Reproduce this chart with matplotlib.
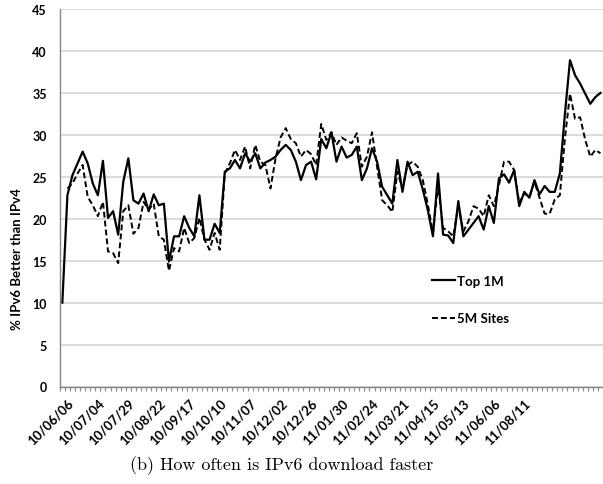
import numpy as np
import matplotlib
matplotlib.use('Agg')
import matplotlib.pyplot as plt
from matplotlib.transforms import ScaledTranslation

# category labels, one every 6 samples
date_labels = ['10/06/06', '10/07/04', '10/07/29', '10/08/22', '10/09/17', '10/10/10',
               '10/11/07', '10/12/02', '10/12/26', '11/01/30', '11/02/24', '11/03/21',
               '11/04/15', '11/05/13', '11/06/06', '11/08/11']

# % of sites where IPv6 is faster
top1m = [10.0, 22.8, 25.2, 26.6, 28.0, 26.6, 24.2, 22.8, 26.9, 20.1, 20.9, 18.1,
         24.4, 27.2, 22.2, 21.8, 23.0, 20.9, 22.9, 21.6, 21.8, 14.9, 17.9, 17.9,
         20.3, 18.9, 17.9, 22.8, 17.5, 17.5, 19.4, 18.3, 25.6, 26.0, 27.0, 26.0,
         27.8, 26.8, 27.8, 26.0, 26.7, 27.0, 27.4, 28.2, 28.8, 28.2, 26.8, 24.6,
         26.4, 26.8, 24.7, 29.5, 28.4, 30.3, 26.8, 28.6, 27.3, 27.6, 28.6, 24.6,
         26.0, 28.4, 26.8, 23.8, 22.8, 21.8, 27.0, 23.2, 26.8, 25.2, 25.6,
         23.5, 21.0, 17.9, 25.4, 18.1, 18.0, 17.1, 22.1, 17.9, 18.7, 19.5, 20.3,
         18.7, 21.5, 19.5, 24.8, 25.3, 24.3, 25.8, 21.5, 23.2, 22.5, 24.6, 22.9,
         23.9, 23.2, 23.2, 25.4, 32.5, 38.9, 37.1, 36.1, 34.9, 33.7, 34.5, 35.0]

sites5m = [np.nan, 23.6, 24.2, 25.4, 26.4, 22.6, 21.6, 20.3, 22.0, 16.1, 15.9, 14.7,
           20.9, 21.6, 18.2, 18.9, 22.0, 21.1, 21.8, 17.9, 17.5, 13.8, 16.5, 16.1,
           18.9, 17.1, 17.7, 20.1, 17.5, 16.3, 18.3, 16.3, 25.4, 26.6, 28.2, 27.0,
           28.6, 26.0, 28.8, 26.8, 26.4, 23.6, 27.2, 29.7, 30.8, 29.5, 29.0, 27.4,
           28.2, 27.7, 26.4, 31.3, 29.4, 30.3, 28.8, 29.7, 29.3, 29.0, 30.2, 26.2,
           27.4, 30.3, 26.2, 22.2, 21.6, 20.8, 25.6, 23.6, 26.4, 26.8, 26.2,
           24.6, 21.7, 18.3, 24.0, 18.9, 18.5, 17.9, 21.5, 18.5, 19.7, 21.5, 21.2,
           20.3, 22.8, 21.5, 24.0, 26.8, 26.8, 25.8, 21.9, 23.0, 22.6, 24.4, 22.5,
           20.6, 20.6, 22.3, 22.8, 29.6, 34.9, 31.9, 32.1, 29.4, 27.4, 28.2, 27.8]

plt.rcParams['font.family'] = ['Lato', 'DejaVu Sans']
plt.rcParams['font.weight'] = 'bold'

W, H = 603, 485
fig = plt.figure(figsize=(W / 100, H / 100), dpi=100)
ax = fig.add_axes([59.8 / W, (H - 387.5) / H, (W - 59.8) / W, (387.5 - 10) / H])

x = np.arange(len(top1m))
ax.plot(x, top1m, color='black', lw=1.6, label='Top 1M')
ax.plot(x, sites5m, color='black', lw=1.4, ls=(0, (3, 1.6)), label='5M Sites')

ax.set_xlim(-0.5, len(x) - 0.5)
ax.set_ylim(0, 45)
ax.set_yticks(range(0, 46, 5))
ax.yaxis.grid(True, color='#d9d9d9', lw=1.3)
ax.set_axisbelow(True)
for s in ['top', 'right']:
    ax.spines[s].set_visible(False)
for s in ['left', 'bottom']:
    ax.spines[s].set_color('#868686')
    ax.spines[s].set_linewidth(1.0)

ax.tick_params(axis='y', length=0, pad=9.5, labelsize=9)
ax.set_xticks(np.arange(len(date_labels)) * 6)
ax.set_xticklabels(date_labels, rotation=45, ha='right', va='top',
                   rotation_mode='anchor', fontsize=9.5)
ax.tick_params(axis='x', which='major', length=0, pad=7)
ax.set_xticks(np.arange(-0.5, len(x), 1), minor=True)
ax.tick_params(axis='x', which='minor', length=3, color='#868686', width=0.8)
# nudge the rotated labels a bit to the right, like the original
shift = ScaledTranslation(5 / 100, 0, fig.dpi_scale_trans)
for lbl in ax.get_xticklabels():
    lbl.set_transform(lbl.get_transform() + shift)

fig.text(17 / W, 1 - 259 / H, '% IPv6 Better than IPv4', rotation=90,
         ha='center', va='center', fontsize=9.5)

ax.legend(loc='upper left', bbox_to_anchor=(425.7 / W, 1 - 269 / H),
          bbox_transform=fig.transFigure, frameon=False, borderpad=0,
          handlelength=1.75, handletextpad=0.15, labelspacing=1.95,
          prop={'size': 9.5, 'weight': 'bold'})

fig.text(282 / W, 1 - 466 / H, '(b) How often is IPv6 download faster',
         ha='center', va='center', fontsize=13, fontfamily='cmr10', fontweight='normal')

fig.savefig('out.png', dpi=100)
